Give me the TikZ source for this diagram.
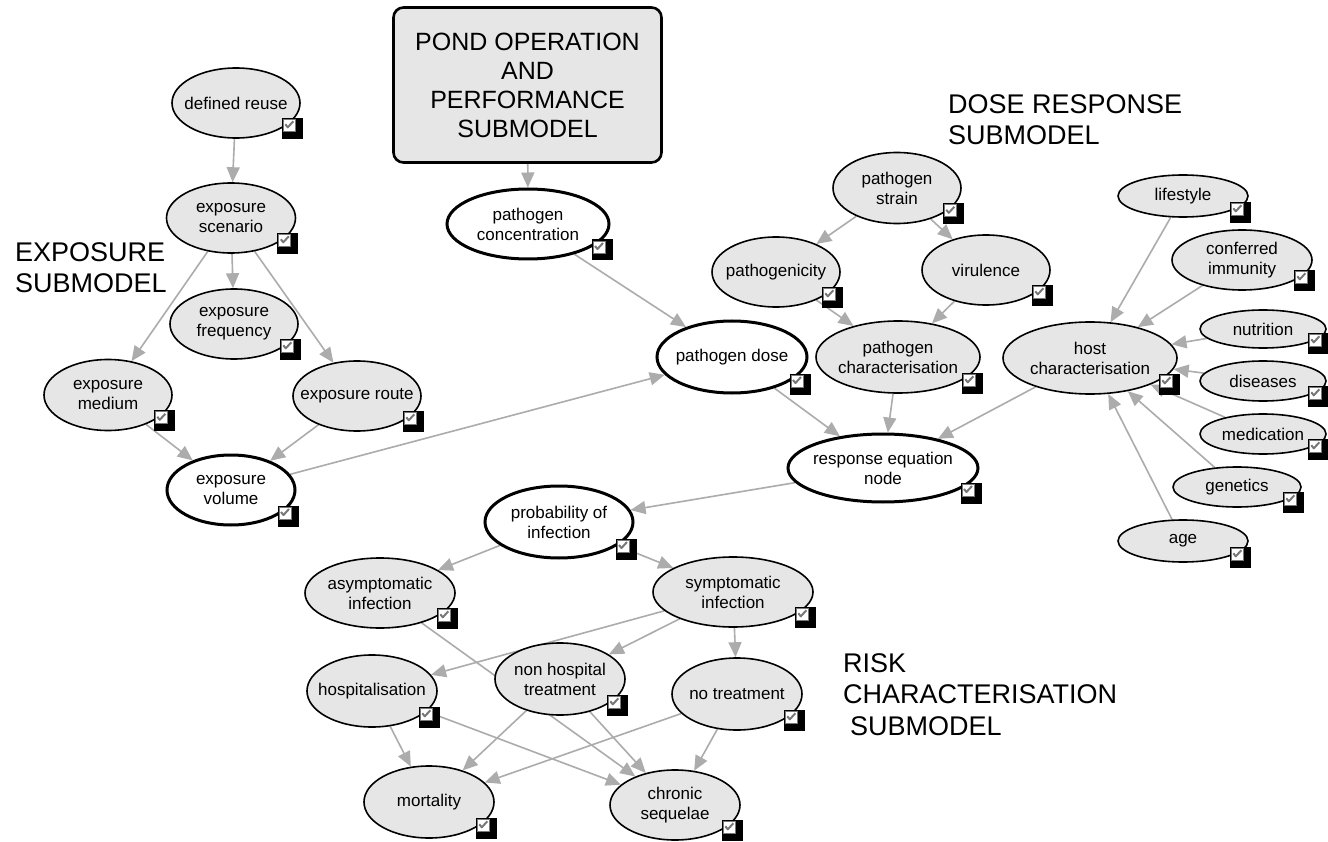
\documentclass[tikz,border=0pt]{standalone}
\usepackage{fontspec}
\setmainfont{Liberation Sans}
\usetikzlibrary{arrows.meta,shapes.geometric,backgrounds}

\definecolor{nodefill}{RGB}{230,230,230}
\definecolor{edgegray}{RGB}{172,172,172}
\definecolor{tickgray}{RGB}{120,120,120}

\newcommand\nodefont{\fontsize{17}{20}\selectfont}
\newcommand\titlefont{\fontsize{27}{31}\selectfont}
\newcommand\pondfont{\fontsize{25}{29}\selectfont}

\tikzset{
  var/.style={ellipse, draw=black, line width=1.6pt, fill=nodefill, inner sep=0pt},
  keyvar/.style={ellipse, draw=black, line width=3pt, fill=white, inner sep=0pt},
  lbl/.style={align=center, font=\nodefont, inner sep=0pt},
  link/.style={draw=edgegray, line width=1.6pt, -{Triangle[length=15pt,width=13pt]}},
  title/.style={font=\titlefont, inner sep=0pt, anchor=base west},
}

% #1 style, #2 name, #3 centre, #4 width, #5 height, #6 text
\newcommand\varnode[6]{%
  \node[#1, minimum width=#4pt, minimum height=#5pt] (#2) at (#3) {};
  \node[lbl] (#2-t) at (#2.center) {#6};}

% check box at the lower right of a variable; optional vertical offset
\newcommand\chkbox[2][0]{%
  \begin{scope}[shift={(#2.east |- #2.south)}, shift={(2,#1)}]
    \fill[black] (-21,-21) rectangle (0,0);
    \filldraw[fill=white, draw=tickgray, line width=0.8pt] (-19.5,-19.5) rectangle (-7.5,-7.5);
    \draw[tickgray, line width=2pt, line join=round] (-17.5,-14.5) -- (-15,-11.5) -- (-9.5,-17.5);
  \end{scope}}

\begin{document}
\begin{tikzpicture}[x=1pt, y=-1pt]
\useasboundingbox (0,0) rectangle (1328,842);
\begin{scope}[on background layer]
  \fill[white] (0,0) rectangle (1328,842);
\end{scope}

% submodel titles
\node[title] (expo-1) at (15,262) {EXPOSURE};
\node[title] (expo-2) at (15,293) {SUBMODEL};
\node[title] (dose-1) at (948,114) {DOSE RESPONSE};
\node[title] (dose-2) at (948,145) {SUBMODEL};
\node[title] (risk-1) at (843,672) {RISK};
\node[title] (risk-2) at (843,703) {CHARACTERISATION};
\node[title] (risk-3) at (850,735) {SUBMODEL};

% pond submodel
\node[draw=black, line width=2.6pt, rounded corners=10pt, fill=nodefill,
      minimum width=268pt, minimum height=155pt, align=center, font=\pondfont]
  (pond) at (527.5,85) {POND OPERATION\\AND\\PERFORMANCE\\SUBMODEL};

% exposure submodel
\varnode{var}{reuse}{236,103}{128}{70}{defined reuse}
\varnode{var}{scen}{231,218}{129}{70}{exposure\\scenario}
\varnode{var}{freq}{234,324}{128}{70}{exposure\\frequency}
\varnode{var}{med}{108,395}{128}{71}{exposure\\medium}
\varnode{var}{route}{357,396}{128}{70}{exposure route}
\varnode{keyvar}{vol}{231,490}{128}{70}{exposure\\volume}

% dose response submodel
\varnode{keyvar}{conc}{528,224}{162}{70}{pathogen\\concentration}
\varnode{keyvar}{dose}{732,357}{150}{72}{pathogen dose}
\varnode{var}{strain}{897,188}{128}{71}{pathogen\\strain}
\varnode{var}{patho}{776,272}{128}{70}{pathogenicity}
\varnode{var}{viru}{986,270}{128}{70}{virulence}
\varnode{var}{pchar}{898,357}{164}{72}{pathogen\\characterisation}
\varnode{var}{hchar}{1090,358}{174}{72}{host\\characterisation}
\varnode{var}{life}{1183,196}{130}{42}{lifestyle}
\varnode{var}{immu}{1242,260}{140}{60}{conferred\\immunity}
\varnode{var}{nutr}{1263,329}{126}{38}{nutrition}
\varnode{var}{dise}{1263,381}{126}{40}{diseases}
\varnode{var}{medi}{1263,434}{126}{40}{medication}
\varnode{var}{gene}{1237,487}{128}{40}{genetics}
\varnode{var}{age}{1183,541}{130}{42}{age}
\varnode{keyvar}{resp}{883,468}{190}{68}{response equation\\node}

% risk characterisation submodel
\varnode{keyvar}{prob}{559,522}{148}{72}{probability of\\infection}
\varnode{var}{asym}{380,593}{150}{70}{asymptomatic\\infection}
\varnode{var}{symp}{733,592}{160}{70}{symptomatic\\infection}
\varnode{var}{hosp}{372,691}{130}{72}{hospitalisation}
\varnode{var}{nonh}{560,679}{130}{72}{non hospital\\treatment}
\varnode{var}{notr}{737,694}{130}{72}{no treatment}
\varnode{var}{mort}{429,802}{130}{72}{mortality}
\varnode{var}{chro}{675,805}{130}{70}{chronic\\sequelae}

% check boxes
\foreach \n in {reuse,scen,freq,med,route,vol,conc,dose,strain,patho,viru,pchar,hchar,
                resp,prob,asym,symp,hosp,nonh,notr,mort,chro}
  {\chkbox{\n}}
\chkbox[5]{life}
\chkbox[0]{immu}
\chkbox[5]{nutr}
\chkbox[5]{dise}
\chkbox[5]{medi}
\chkbox[5]{gene}
\chkbox[5]{age}

% influence links
\begin{scope}[on background layer]
  \draw[link] (reuse) -- (scen);
  \draw[link] (scen) -- (freq);
  \draw[link] (scen) -- (med);
  \draw[link] (scen) -- (route);
  \draw[link] (med) -- (vol);
  \draw[link] (route) -- (vol);
  \draw[link] (vol) -- (dose);
  \draw[link] (pond) -- (conc);
  \draw[link] (conc) -- (dose);
  \draw[link] (strain) -- (patho);
  \draw[link] (strain) -- (viru);
  \draw[link] (patho) -- (pchar);
  \draw[link] (viru) -- (pchar);
  \draw[link] (dose) -- (resp);
  \draw[link] (pchar) -- (resp);
  \draw[link] (hchar) -- (resp);
  \draw[link] (life) -- (hchar);
  \draw[link] (immu) -- (hchar);
  \draw[link] (nutr) -- (hchar);
  \draw[link] (dise) -- (hchar);
  \draw[link] (medi) -- (hchar);
  \draw[link] (gene) -- (hchar);
  \draw[link] (age) -- (hchar);
  \draw[link] (resp) -- (prob);
  \draw[link] (prob) -- (asym);
  \draw[link] (prob) -- (symp);
  \draw[link] (symp) -- (hosp);
  \draw[link] (symp) -- (nonh);
  \draw[link] (symp) -- (notr);
  \draw[link] (asym) -- (chro);
  \draw[link] (hosp) -- (mort);
  \draw[link] (hosp) -- (chro);
  \draw[link] (nonh) -- (mort);
  \draw[link] (nonh) -- (chro);
  \draw[link] (notr) -- (mort);
  \draw[link] (notr) -- (chro);
\end{scope}
\end{tikzpicture}
\end{document}
